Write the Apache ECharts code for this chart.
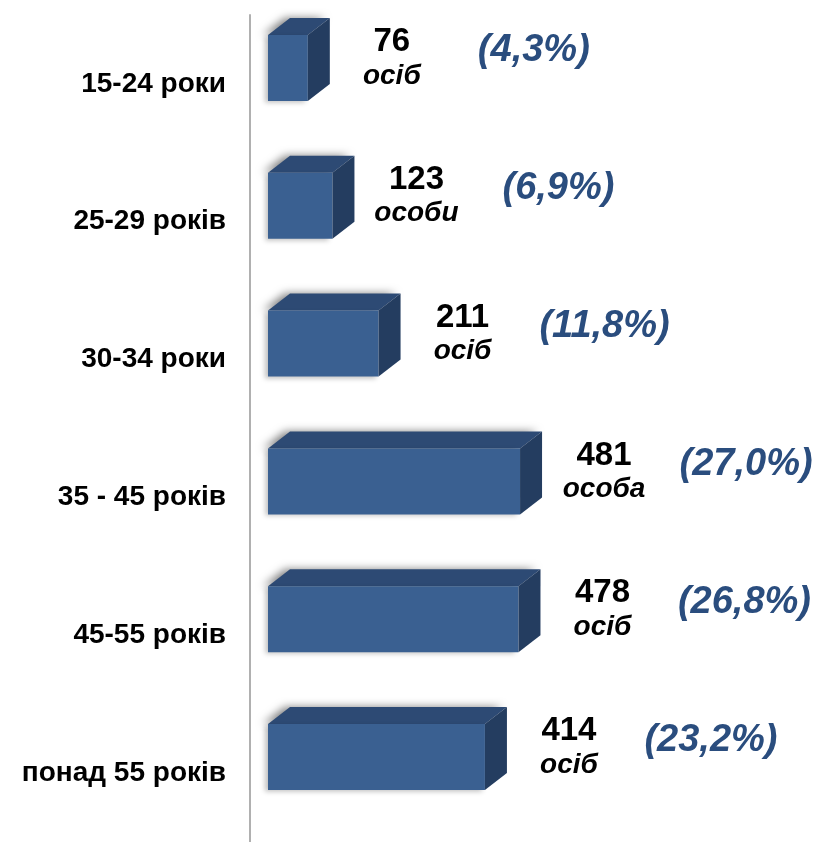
<!DOCTYPE html>
<html>
<head>
<meta charset="utf-8">
<script src="https://cdn.jsdelivr.net/npm/echarts@6/dist/echarts.min.js"></script>
<style>
  html, body { margin: 0; padding: 0; background: #fff; }
  #chart { width: 828px; height: 842px; }
</style>
</head>
<body>
<div id="chart"></div>
<script>
var categories = ['15-24 роки', '25-29 років', '30-34 роки', '35 - 45 років', '45-55 років', 'понад 55 років'];
var values = [76, 123, 211, 481, 478, 414];
var units = ['осіб', 'особи', 'осіб', 'особа', 'осіб', 'осіб'];
var shares = [4.3, 6.9, 11.8, 27.0, 26.8, 23.2];

var chart = echarts.init(document.getElementById('chart'));

// 3d box: front face + top face + right side
function renderBar(params, api) {
	var idx = api.value(0);
	var end = api.coord([api.value(1), idx]);
	var start = api.coord([0, idx]);
	var cy = end[1] - 16;
	var h = 66, dx = 22, dy = 17;
	var x0 = start[0], x1 = end[0];
	var top = cy - h / 2, bottom = cy + h / 2;
	var fontName = '"Liberation Sans", Arial, sans-serif';
	var pct = '(' + shares[params.dataIndex].toFixed(1).replace('.', ',') + '%)';
	return {
		type: 'group',
		children: [
			{
				type: 'polygon',
				shape: { points: [[x0, top], [x0 + dx, top - dy], [x1 + dx, top - dy], [x1, top]] },
				style: { fill: '#2d4a74', shadowBlur: 8, shadowColor: 'rgba(0,0,0,0.5)', shadowOffsetX: -5, shadowOffsetY: 0 }
			},
			{
				type: 'rect',
				shape: { x: x0, y: top, width: x1 - x0, height: h },
				style: { fill: '#3a6091', shadowBlur: 5, shadowColor: 'rgba(0,0,0,0.25)', shadowOffsetX: -3, shadowOffsetY: 2 }
			},
			{
				type: 'polygon',
				shape: { points: [[x1, top], [x1 + dx, top - dy], [x1 + dx, bottom - dy], [x1, bottom]] },
				style: { fill: '#243d60' }
			},
			{
				type: 'text',
				x: x1 + 84, y: cy - 26,
				style: { text: String(values[params.dataIndex]), fill: '#000', font: 'bold 33px ' + fontName, align: 'center', verticalAlign: 'middle' }
			},
			{
				type: 'text',
				x: x1 + 84, y: cy + 8,
				style: { text: units[params.dataIndex], fill: '#000', font: 'italic bold 28px ' + fontName, align: 'center', verticalAlign: 'middle' }
			},
			{
				type: 'text',
				x: x1 + 226, y: cy - 17,
				style: { text: pct, fill: '#2a4d7e', font: 'italic bold 38px ' + fontName, align: 'center', verticalAlign: 'middle' }
			}
		]
	};
}

var option = {
	animation: false,
	grid: { left: 268, top: 15, width: 524, height: 830 },
	xAxis: { type: 'value', min: 0, max: 1000, show: false },
	yAxis: {
		type: 'category',
		data: categories,
		inverse: true,
		offset: 18,
		axisLine: { show: true, onZero: false, lineStyle: { color: '#b0b0b0', width: 2 } },
		axisTick: { show: false },
		axisLabel: {
			margin: 24,
			color: '#000',
			fontSize: 28,
			fontWeight: 'bold',
			fontFamily: '"Liberation Sans", Arial, sans-serif'
		},
		splitLine: { show: false }
	},
	series: [
		{
			type: 'custom',
			renderItem: renderBar,
			encode: { x: 1, y: 0 },
			data: values.map(function (v, i) { return [i, v]; }),
			clip: false
		}
	]
};
chart.setOption(option);
</script>
</body>
</html>
